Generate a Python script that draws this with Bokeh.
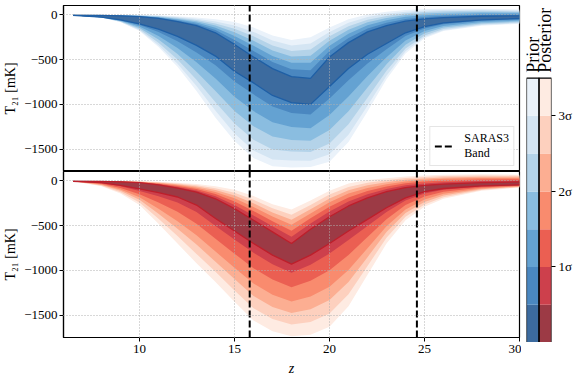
import math
from bokeh.plotting import figure
from bokeh.layouts import row, column
from bokeh.models import Range1d, FixedTicker, Legend, LegendItem
from bokeh.embed import file_html
from bokeh.resources import INLINE
from bokeh.core.properties import value

FONT = "Liberation Serif"

# ---------------- data ----------------
z_grid = [6.5, 8, 9, 10, 11, 12, 13, 14, 15, 16, 17, 18, 19, 20, 21, 22, 23, 24, 25, 26, 28, 30]

sigma_levels = [0.0, 0.5, 1.0, 1.5, 2.0, 2.5, 3.0, 3.5]
sigma_ticks = [1, 2, 3]
sigma_tick_labels = ["1σ", "2σ", "3σ"]

x_ticks = [10, 15, 20, 25, 30]
y_ticks = [0, -500, -1000, -1500]
y_tick_labels = ["0", "−500", "−1000", "−1500"]

saras_band = [15.8, 24.6]

# Prior (top panel): upper / lower edge of each credible band
prior_up_05 = [-2, -5, -10, -20, -40, -75, -120, -200, -330, -470, -600, -690, -710, -470, -310, -190, -120, -70, -45, -30, -15, -10]
prior_up_10 = [-2, -4, -8, -16, -33, -63, -102, -170, -280, -404, -526, -608, -618, -404, -258, -151, -89, -45, -23, -10, 2, 4]
prior_up_15 = [-1, -3, -6, -12, -27, -52, -86, -143, -235, -345, -459, -534, -535, -345, -211, -116, -61, -22, -3, 8, 17, 17]
prior_up_20 = [-1, -2, -5, -9, -21, -42, -71, -118, -193, -289, -397, -465, -457, -289, -167, -83, -35, -1, 16, 25, 32, 29]
prior_up_25 = [-1, -2, -3, -6, -16, -33, -57, -95, -155, -239, -341, -403, -388, -239, -128, -54, -12, 18, 32, 40, 45, 39]
prior_up_30 = [0, -1, -2, -3, -10, -24, -44, -73, -118, -190, -286, -342, -319, -190, -89, -24, 12, 36, 49, 55, 57, 50]
prior_up_35 = [0, 0, 0, 0, -5, -15, -30, -50, -80, -140, -230, -280, -250, -140, -50, 5, 35, 55, 65, 70, 70, 60]

prior_lo_05 = [-6, -25, -55, -100, -160, -240, -340, -460, -630, -760, -900, -980, -1000, -800, -600, -440, -320, -200, -130, -90, -55, -40]
prior_lo_10 = [-6, -26, -59, -113, -192, -294, -420, -562, -744, -888, -1025, -1095, -1112, -934, -731, -542, -384, -237, -151, -104, -65, -50]
prior_lo_15 = [-6, -27, -65, -130, -236, -369, -530, -710, -915, -1075, -1200, -1254, -1266, -1119, -912, -683, -472, -287, -179, -124, -80, -63]
prior_lo_20 = [-6, -28, -70, -146, -276, -437, -635, -850, -1075, -1245, -1360, -1398, -1406, -1287, -1076, -811, -552, -333, -205, -142, -93, -75]
prior_lo_25 = [-6, -29, -74, -161, -312, -498, -725, -975, -1215, -1395, -1505, -1527, -1532, -1438, -1223, -926, -624, -375, -229, -158, -104, -86]
prior_lo_30 = [-6, -30, -78, -172, -340, -546, -795, -1070, -1325, -1515, -1615, -1628, -1630, -1556, -1338, -1016, -680, -407, -247, -171, -114, -94]
prior_lo_35 = [-6, -30, -80, -180, -360, -580, -850, -1150, -1410, -1600, -1690, -1705, -1700, -1640, -1420, -1080, -720, -430, -260, -180, -120, -100]

# Posterior (bottom panel)
post_up_05 = [-2, -5, -10, -20, -45, -80, -125, -200, -310, -440, -570, -700, -540, -400, -280, -190, -120, -75, -50, -35, -20, -12]
post_up_10 = [-2, -4, -8, -17, -38, -68, -107, -172, -268, -386, -508, -624, -476, -342, -230, -150, -90, -50, -28, -14, -1, 4]
post_up_15 = [-1, -3, -6, -14, -32, -57, -91, -147, -230, -337, -452, -556, -418, -290, -185, -114, -63, -27, -8, 5, 16, 19]
post_up_20 = [-1, -2, -4, -12, -26, -47, -76, -123, -195, -291, -399, -491, -364, -240, -142, -80, -38, -6, 11, 23, 32, 33]
post_up_25 = [-1, -1, -3, -10, -20, -38, -62, -102, -163, -251, -353, -434, -316, -197, -105, -50, -15, 13, 27, 39, 47, 45]
post_up_30 = [0, -1, -2, -7, -15, -29, -48, -81, -132, -210, -306, -377, -268, -153, -67, -20, 8, 31, 44, 54, 61, 58]
post_up_35 = [0, 0, 0, -5, -10, -20, -35, -60, -100, -170, -260, -320, -220, -110, -30, 10, 30, 50, 60, 70, 75, 70]

post_lo_05 = [-5, -20, -50, -90, -130, -180, -270, -420, -560, -700, -830, -930, -830, -700, -560, -430, -300, -190, -120, -85, -55, -45]
post_lo_10 = [-5, -25, -61, -112, -172, -242, -348, -505, -655, -803, -932, -1027, -937, -812, -661, -504, -348, -220, -140, -99, -62, -49]
post_lo_15 = [-5, -33, -79, -148, -242, -346, -478, -647, -813, -975, -1102, -1188, -1115, -998, -829, -628, -428, -270, -174, -122, -73, -55]
post_lo_20 = [-5, -41, -97, -184, -312, -450, -608, -789, -971, -1147, -1272, -1349, -1293, -1184, -997, -752, -508, -320, -208, -145, -84, -61]
post_lo_25 = [-5, -47, -111, -212, -368, -534, -712, -903, -1097, -1285, -1408, -1477, -1435, -1332, -1131, -852, -572, -360, -236, -163, -92, -65]
post_lo_30 = [-5, -54, -126, -241, -424, -617, -816, -1016, -1224, -1422, -1544, -1606, -1578, -1481, -1266, -951, -636, -400, -263, -182, -101, -70]
post_lo_35 = [-5, -60, -140, -270, -480, -700, -920, -1130, -1350, -1560, -1680, -1735, -1720, -1630, -1400, -1050, -700, -440, -290, -200, -110, -75]

# colours, innermost (0-0.5 sigma) to outermost (3-3.5 sigma)
blues = ["#3c6b9f", "#4a87c0", "#64a2d2", "#8abde0", "#b4d3e9", "#d4e5f3", "#eaf2fa"]
reds = ["#9c3a45", "#cd404c", "#eb5f52", "#f98b6e", "#fcae92", "#fdd0be", "#feebe2"]
blue_line = "#1f5fa5"
red_line = "#bd1f2b"

prior_up = [prior_up_05, prior_up_10, prior_up_15, prior_up_20, prior_up_25, prior_up_30, prior_up_35]
prior_lo = [prior_lo_05, prior_lo_10, prior_lo_15, prior_lo_20, prior_lo_25, prior_lo_30, prior_lo_35]
post_up = [post_up_05, post_up_10, post_up_15, post_up_20, post_up_25, post_up_30, post_up_35]
post_lo = [post_lo_05, post_lo_10, post_lo_15, post_lo_20, post_lo_25, post_lo_30, post_lo_35]

# ---------------- figures ----------------
x_range = Range1d(6, 30)
Y0, Y1 = -1750, 105


def make_panel(show_x, frame_h, border_top, border_bottom):
    p = figure(x_range=x_range, y_range=Range1d(Y0, Y1),
               frame_width=456, frame_height=frame_h,
               min_border_left=58, min_border_right=2,
               min_border_top=border_top, min_border_bottom=border_bottom,
               toolbar_location=None, output_backend="svg",
               x_axis_location="below" if show_x else None)
    p.outline_line_color = "black"
    p.outline_line_width = 1.2
    p.background_fill_color = "white"
    p.border_fill_color = "white"
    for g in (p.xgrid, p.ygrid):
        g.grid_line_color = "#b0b0b0"
        g.grid_line_dash = "1 2"
        g.grid_line_width = 1
        g.level = "annotation"
    p.xgrid.ticker = FixedTicker(ticks=x_ticks)
    p.ygrid.ticker = FixedTicker(ticks=y_ticks)
    p.yaxis.ticker = FixedTicker(ticks=y_ticks)
    p.yaxis.major_label_overrides = {t: s for t, s in zip(y_ticks, y_tick_labels)}
    p.yaxis.axis_label = "T₂₁ [mK]"
    axes = list(p.yaxis)
    if show_x:
        p.xaxis.ticker = FixedTicker(ticks=x_ticks)
        p.xaxis.axis_label = "z"
        p.xaxis.axis_label_text_font_style = "italic"
        axes += list(p.xaxis)
    for ax in axes:
        ax.axis_line_color = "black"
        ax.axis_line_width = 1.2
        ax.major_tick_line_color = "black"
        ax.major_tick_out = 4
        ax.major_tick_in = 0
        ax.minor_tick_line_color = None
        ax.major_label_text_font = FONT
        ax.major_label_text_font_size = "13px"
        ax.major_label_text_color = "black"
        ax.major_label_standoff = 3
        ax.axis_label_text_font = FONT
        ax.axis_label_text_font_size = "14px"
        ax.axis_label_text_color = "black"
        ax.axis_label_standoff = 5
    p.yaxis.major_label_standoff = 2
    p.yaxis.axis_label_standoff = 3
    p.yaxis.axis_label_text_font_style = "normal"
    return p


def draw_bands(p, ups, los, cols, line_col):
    for up, lo, c in reversed(list(zip(ups, los, cols))):
        p.varea(x=z_grid, y1=lo, y2=up, fill_color=c, fill_alpha=1.0)
    p.line(x=z_grid, y=ups[0], line_color=line_col, line_width=1.3)
    p.line(x=z_grid, y=los[0], line_color=line_col, line_width=1.3)


def draw_saras(p):
    n = len(saras_band)
    return p.segment(x0=saras_band, x1=saras_band, y0=[Y0] * n, y1=[Y1] * n,
                     line_color="black", line_width=2, line_dash="7 3")


p1 = make_panel(False, 166, 5, 0)
p2 = make_panel(True, 166, 0, 40)

draw_bands(p1, prior_up, prior_lo, blues, blue_line)
draw_bands(p2, post_up, post_lo, reds, red_line)
saras_r = draw_saras(p1)
draw_saras(p2)

legend = Legend(items=[LegendItem(label="SARAS3\nBand", renderers=[saras_r])],
                location="bottom_right")
legend.label_text_font = FONT
legend.label_text_font_size = "12px"
legend.label_text_color = "black"
legend.label_text_line_height = 1.0
legend.border_line_color = "#cccccc"
legend.border_line_width = 1
legend.background_fill_alpha = 0.85
legend.glyph_width = 20
legend.glyph_height = 14
legend.label_standoff = 10
legend.padding = 4
legend.margin = 5
legend.spacing = 0
p1.add_layout(legend, "center")

# ---------------- colour bar ----------------
cb_top = 4.50
cb = figure(x_range=Range1d(0, 2), y_range=Range1d(sigma_levels[0], cb_top),
            frame_width=25, frame_height=340,
            min_border_left=5, min_border_right=23, min_border_top=2, min_border_bottom=0,
            toolbar_location=None, output_backend="svg",
            x_axis_location=None, y_axis_location="right")
cb.outline_line_color = None
cb.xgrid.visible = False
cb.ygrid.visible = False
cb.background_fill_color = "white"
cb.border_fill_color = "white"
n = len(sigma_levels) - 1
cb.quad(left=[0] * n, right=[1] * n, bottom=sigma_levels[:-1], top=sigma_levels[1:],
        fill_color=blues, line_color=None)
cb.quad(left=[1] * n, right=[2] * n, bottom=sigma_levels[:-1], top=sigma_levels[1:],
        fill_color=reds, line_color=None)
cb.quad(left=[0, 1], right=[1, 2], bottom=[sigma_levels[0]] * 2, top=[sigma_levels[-1]] * 2,
        fill_color=None, line_color="black", line_width=1.2)
cb.text(x=[0.5, 1.5], y=[sigma_levels[-1] + 0.07] * 2, text=["Prior", "Posterior"],
        angle=math.pi / 2, text_align="left", text_baseline="middle",
        text_font=value(FONT), text_font_size="18px", text_color="black")
ax = cb.yaxis[0]
ax.ticker = FixedTicker(ticks=sigma_ticks)
ax.major_label_overrides = {t: s for t, s in zip(sigma_ticks, sigma_tick_labels)}
ax.axis_line_color = None
ax.major_tick_line_color = "black"
ax.major_tick_out = 4
ax.major_tick_in = 0
ax.minor_tick_line_color = None
ax.major_label_text_font = FONT
ax.major_label_text_font_size = "13px"
ax.major_label_text_color = "black"
ax.major_label_standoff = 3

layout = row(column(p1, p2), cb)
open("out.html", "w").write(file_html(layout, INLINE))
